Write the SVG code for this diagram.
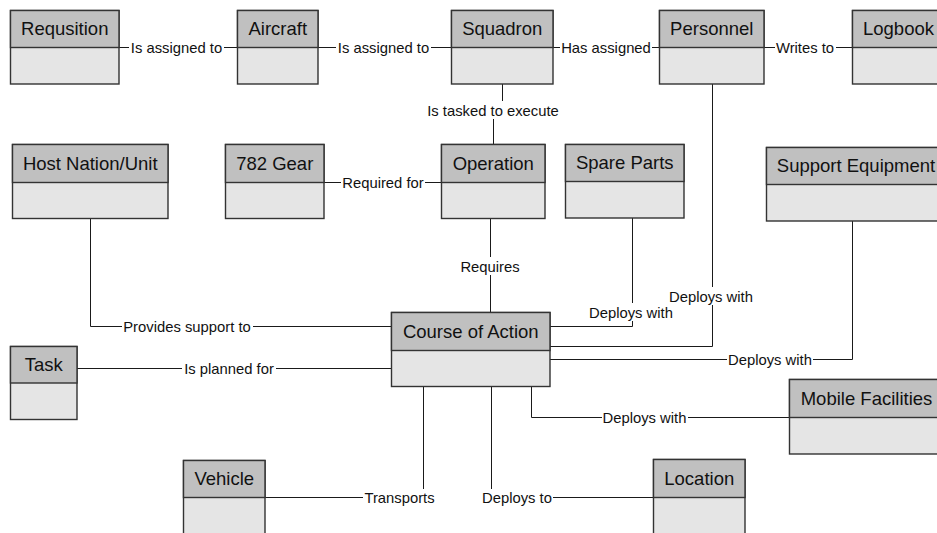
<svg xmlns="http://www.w3.org/2000/svg" width="937" height="533" viewBox="0 0 937 533">
  <style>
    .bd { fill: #e5e5e5; stroke: #333; stroke-width: 1.4; }
    .hd { fill: #c0c0c0; stroke: #333; stroke-width: 1.4; }
    .nt { font-family: "Liberation Sans", Arial, sans-serif; font-size: 18.5px; fill: #111; text-anchor: middle; }
    .cn { fill: none; stroke: #1a1a1a; stroke-width: 1; }
    .lb { fill: #fff; stroke: none; }
    .lt { font-family: "Liberation Sans", Arial, sans-serif; font-size: 14.8px; fill: #111; text-anchor: middle; }
  </style>

  <!-- connectors (drawn first, labels sit on white plates above them) -->
  <g id="connectors">
    <path class="cn" d="M119 47.5 H237"/>
    <path class="cn" d="M318 47.5 H451"/>
    <path class="cn" d="M553 47.5 H659"/>
    <path class="cn" d="M764 47.5 H852"/>
    <path class="cn" d="M502.5 84 V110.5 H493.5 V144"/>
    <path class="cn" d="M324 182.5 H441"/>
    <path class="cn" d="M490.5 219 V312"/>
    <path class="cn" d="M90.5 219 V326.5 H391"/>
    <path class="cn" d="M77 368.5 H391"/>
    <path class="cn" d="M632.5 218 V326.5 H550"/>
    <path class="cn" d="M712.5 84 V346.5 H550"/>
    <path class="cn" d="M852.5 221 V359.5 H550"/>
    <path class="cn" d="M531.5 387 V417.5 H789"/>
    <path class="cn" d="M423.5 387 V497.5 H265"/>
    <path class="cn" d="M491.5 387 V497.5 H653"/>

    <g id="labels">
      <rect class="lb" x="129" y="39" width="95" height="17"/>
      <text class="lt" x="176.5" y="52.5">Is assigned to</text>
      <rect class="lb" x="336" y="39" width="95" height="17"/>
      <text class="lt" x="383.5" y="52.5">Is assigned to</text>
      <rect class="lb" x="560" y="39" width="92" height="17"/>
      <text class="lt" x="606" y="52.5">Has assigned</text>
      <rect class="lb" x="775" y="39" width="61" height="17"/>
      <text class="lt" x="805" y="52.5">Writes to</text>
      <rect class="lb" x="426" y="101" width="134" height="18"/>
      <text class="lt" x="493" y="115.5">Is tasked to execute</text>
      <rect class="lb" x="341" y="174" width="84" height="17"/>
      <text class="lt" x="383" y="187.5">Required for</text>
      <rect class="lb" x="459" y="257" width="62" height="18"/>
      <text class="lt" x="490" y="271.5">Requires</text>
      <rect class="lb" x="122" y="318" width="131" height="17"/>
      <text class="lt" x="187" y="331.5">Provides support to</text>
      <rect class="lb" x="182" y="360" width="94" height="17"/>
      <text class="lt" x="229" y="373.5">Is planned for</text>
      <rect class="lb" x="589" y="303" width="85" height="18"/>
      <text class="lt" x="631" y="317.5">Deploys with</text>
      <rect class="lb" x="669" y="287" width="85" height="18"/>
      <text class="lt" x="711" y="301.5">Deploys with</text>
      <rect class="lb" x="727" y="351" width="86" height="17"/>
      <text class="lt" x="770" y="364.5">Deploys with</text>
      <rect class="lb" x="602" y="409" width="86" height="17"/>
      <text class="lt" x="644.5" y="422.5">Deploys with</text>
      <rect class="lb" x="363" y="489" width="73" height="17"/>
      <text class="lt" x="399.5" y="502.5">Transports</text>
      <rect class="lb" x="481" y="489" width="72" height="17"/>
      <text class="lt" x="517" y="502.5">Deploys to</text>
    </g>
  </g>

  <!-- entity boxes: header band with name, empty body below -->
  <g id="requsition">
    <rect class="bd" x="10.5" y="10.5" width="108.5" height="73.5"/>
    <rect class="hd" x="10.5" y="10.5" width="108.5" height="37"/>
    <text class="nt" x="64.75" y="35">Requsition</text>
  </g>
  <g id="aircraft">
    <rect class="bd" x="237.5" y="10.5" width="80.5" height="73.5"/>
    <rect class="hd" x="237.5" y="10.5" width="80.5" height="37"/>
    <text class="nt" x="277.75" y="35">Aircraft</text>
  </g>
  <g id="squadron">
    <rect class="bd" x="451.5" y="10.5" width="101.5" height="73.5"/>
    <rect class="hd" x="451.5" y="10.5" width="101.5" height="37"/>
    <text class="nt" x="502.25" y="35">Squadron</text>
  </g>
  <g id="personnel">
    <rect class="bd" x="659.5" y="10.5" width="104.5" height="73.5"/>
    <rect class="hd" x="659.5" y="10.5" width="104.5" height="37"/>
    <text class="nt" x="711.75" y="35">Personnel</text>
  </g>
  <g id="logbook">
    <rect class="bd" x="852.5" y="10.5" width="92" height="73.5"/>
    <rect class="hd" x="852.5" y="10.5" width="92" height="37"/>
    <text class="nt" x="898.5" y="35">Logbook</text>
  </g>
  <g id="host-nation">
    <rect class="bd" x="12.5" y="144.5" width="155.5" height="74"/>
    <rect class="hd" x="12.5" y="144.5" width="155.5" height="38"/>
    <text class="nt" x="90.25" y="169.5">Host Nation/Unit</text>
  </g>
  <g id="gear-782">
    <rect class="bd" x="225.5" y="144.5" width="98.5" height="74"/>
    <rect class="hd" x="225.5" y="144.5" width="98.5" height="38"/>
    <text class="nt" x="274.75" y="169.5">782 Gear</text>
  </g>
  <g id="operation">
    <rect class="bd" x="441.5" y="144.5" width="103.5" height="74"/>
    <rect class="hd" x="441.5" y="144.5" width="103.5" height="38"/>
    <text class="nt" x="493.25" y="169.5">Operation</text>
  </g>
  <g id="spare-parts">
    <rect class="bd" x="565.5" y="144.5" width="118.5" height="73.5"/>
    <rect class="hd" x="565.5" y="144.5" width="118.5" height="37"/>
    <text class="nt" x="624.75" y="169">Spare Parts</text>
  </g>
  <g id="support-equipment">
    <rect class="bd" x="766.5" y="147.5" width="179" height="73.5"/>
    <rect class="hd" x="766.5" y="147.5" width="179" height="37"/>
    <text class="nt" x="856" y="172">Support Equipment</text>
  </g>
  <g id="course-of-action">
    <rect class="bd" x="391.5" y="312.5" width="158.5" height="74"/>
    <rect class="hd" x="391.5" y="312.5" width="158.5" height="38"/>
    <text class="nt" x="470.75" y="338">Course of Action</text>
  </g>
  <g id="task">
    <rect class="bd" x="10.5" y="346.5" width="66.5" height="73"/>
    <rect class="hd" x="10.5" y="346.5" width="66.5" height="36.5"/>
    <text class="nt" x="43.75" y="371">Task</text>
  </g>
  <g id="mobile-facilities">
    <rect class="bd" x="789.5" y="379.5" width="154" height="74.5"/>
    <rect class="hd" x="789.5" y="379.5" width="154" height="38"/>
    <text class="nt" x="866.5" y="405">Mobile Facilities</text>
  </g>
  <g id="vehicle">
    <rect class="bd" x="183.5" y="460.5" width="81.5" height="80"/>
    <rect class="hd" x="183.5" y="460.5" width="81.5" height="37"/>
    <text class="nt" x="224.25" y="485">Vehicle</text>
  </g>
  <g id="location">
    <rect class="bd" x="653.5" y="459.5" width="91.5" height="80"/>
    <rect class="hd" x="653.5" y="459.5" width="91.5" height="38"/>
    <text class="nt" x="699.25" y="485">Location</text>
  </g>
</svg>
